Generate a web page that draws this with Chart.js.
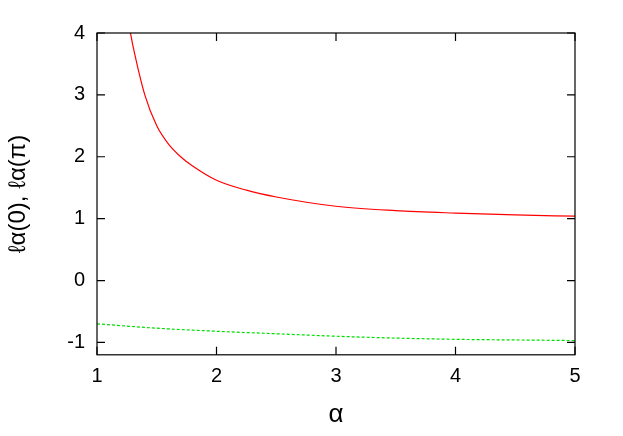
<!DOCTYPE html>
<html><head><script src="https://cdn.jsdelivr.net/npm/chart.js@4"></script>
<style>body{margin:0;background:#fff}#w{width:623px;height:436px}</style></head>
<body><div id="w"><canvas id="c"></canvas></div>
<script>
const alphaRed=[1.28,1.3,1.4,1.5,1.6,1.7,1.8,2,2.25,2.5,3,3.5,4,4.5,5];
const valRed=[4,3.8,3.0,2.5,2.2,2.0,1.85,1.62,1.46,1.35,1.2,1.13,1.09,1.06,1.04];
const alphaGreen=[1,1.5,2,2.5,3,3.5,4,4.5,5];
const valGreen=[-0.7,-0.77,-0.82,-0.86,-0.9,-0.93,-0.95,-0.96,-0.97];
const xTicks=[1,2,3,4,5], yTicks=[-1,0,1,2,3,4];
const frame={id:'frame',afterDatasetsDraw(ch){const c=ch.ctx,a=ch.chartArea,x=ch.scales.x,y=ch.scales.y;
c.save();c.strokeStyle='#000';c.lineWidth=1.2;c.strokeRect(a.left,a.top,a.right-a.left,a.bottom-a.top);
c.beginPath();xTicks.forEach(v=>{const p=x.getPixelForValue(v);c.moveTo(p,a.bottom);c.lineTo(p,a.bottom-8);c.moveTo(p,a.top);c.lineTo(p,a.top+8);});
yTicks.forEach(v=>{const p=y.getPixelForValue(v);c.moveTo(a.left,p);c.lineTo(a.left+8,p);c.moveTo(a.right,p);c.lineTo(a.right-8,p);});
c.stroke();c.restore();}};
new Chart(document.getElementById('c'),{type:'line',
data:{datasets:[
{data:alphaRed.map((a,i)=>({x:a,y:valRed[i]})),borderColor:'#ff0000',borderWidth:1.2,pointRadius:0,cubicInterpolationMode:'monotone'},
{data:alphaGreen.map((a,i)=>({x:a,y:valGreen[i]})),borderColor:'#00dd00',borderWidth:1.2,borderDash:[3,2],pointRadius:0,cubicInterpolationMode:'monotone'}]},
options:{responsive:true,maintainAspectRatio:false,animation:false,
layout:{padding:{top:33,right:48,bottom:2,left:0}},
plugins:{legend:{display:false},tooltip:{enabled:false}},
scales:{
x:{type:'linear',min:1,max:5,afterBuildTicks:s=>{s.ticks=xTicks.map(v=>({value:v}))},
grid:{display:false,drawTicks:false},border:{display:false},
ticks:{color:'#000',font:{family:'Liberation Sans',size:20},padding:10},
title:{display:true,text:'α',color:'#000',font:{family:'Liberation Sans',size:26},padding:{top:0}}},
y:{min:-1.2,max:4,afterBuildTicks:s=>{s.ticks=yTicks.map(v=>({value:v}))},
grid:{display:false,drawTicks:false},border:{display:false},
ticks:{color:'#000',font:{family:'Liberation Sans',size:20},padding:12},
title:{display:true,text:'ℓα(0), ℓα(π)',color:'#000',font:{family:'Liberation Sans',size:24}},
afterFit:s=>{s.width=97}}}},
plugins:[frame]});
</script></body></html>
